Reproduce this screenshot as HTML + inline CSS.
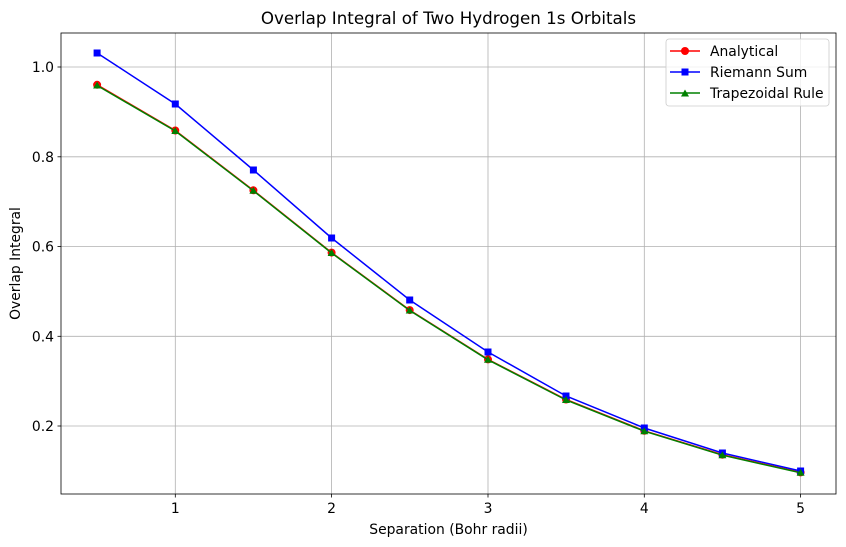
<!DOCTYPE html>
<html><head><meta charset="utf-8"><style>body{margin:0;background:#fff}svg{display:block}text{font-family:"DejaVu Sans","Liberation Sans",sans-serif;fill:#000}</style></head><body>
<svg width="846" height="547" xmlns="http://www.w3.org/2000/svg">
<rect width="846" height="547" fill="#fff"/>
<g stroke="#b0b0b0" stroke-width="0.8">
<line x1="175.3" y1="33" x2="175.3" y2="494"/><line x1="331.6" y1="33" x2="331.6" y2="494"/><line x1="488" y1="33" x2="488" y2="494"/><line x1="644.3" y1="33" x2="644.3" y2="494"/><line x1="800.6" y1="33" x2="800.6" y2="494"/>
<line x1="61" y1="67" x2="836" y2="67"/><line x1="61" y1="156.8" x2="836" y2="156.8"/><line x1="61" y1="246.5" x2="836" y2="246.5"/><line x1="61" y1="336.3" x2="836" y2="336.3"/><line x1="61" y1="426" x2="836" y2="426"/>
</g>
<rect x="61" y="33" width="775" height="461" fill="none" stroke="#000" stroke-width="0.8"/>
<g stroke="#000" stroke-width="0.8">
<line x1="175.3" y1="494" x2="175.3" y2="497.5"/><line x1="331.6" y1="494" x2="331.6" y2="497.5"/><line x1="488" y1="494" x2="488" y2="497.5"/><line x1="644.3" y1="494" x2="644.3" y2="497.5"/><line x1="800.6" y1="494" x2="800.6" y2="497.5"/>
<line x1="57.5" y1="67" x2="61" y2="67"/><line x1="57.5" y1="156.8" x2="61" y2="156.8"/><line x1="57.5" y1="246.5" x2="61" y2="246.5"/><line x1="57.5" y1="336.3" x2="61" y2="336.3"/><line x1="57.5" y1="426" x2="61" y2="426"/>
</g>
<g font-size="13.9" text-anchor="middle">
<text x="175.3" y="513">1</text><text x="331.6" y="513">2</text><text x="488" y="513">3</text><text x="644.3" y="513">4</text><text x="800.6" y="513">5</text>
</g>
<g font-size="13.9" text-anchor="end">
<text x="54" y="72">1.0</text><text x="54" y="161.8">0.8</text><text x="54" y="251.5">0.6</text><text x="54" y="341.3">0.4</text><text x="54" y="431">0.2</text>
</g>
<text x="448.5" y="534" font-size="13.9" text-anchor="middle">Separation (Bohr radii)</text>
<text transform="translate(20,263.5) rotate(-90)" font-size="13.9" text-anchor="middle">Overlap Integral</text>
<text x="448.5" y="24" font-size="16.7" text-anchor="middle">Overlap Integral of Two Hydrogen 1s Orbitals</text>
<g fill="red" stroke="none">
<polyline fill="none" stroke="red" stroke-width="1.5" points="97.1,84.8 175.3,130.5 253.4,190.3 331.6,252.6 409.7,310.1 488,359.4 566,399.5 644.3,430.8 722.4,454.7 800.6,472.4"/>
<circle cx="97.1" cy="84.8" r="4"/><circle cx="175.3" cy="130.5" r="4"/><circle cx="253.4" cy="190.3" r="4"/><circle cx="331.6" cy="252.6" r="4"/><circle cx="409.7" cy="310.1" r="4"/><circle cx="488" cy="359.4" r="4"/><circle cx="566" cy="399.5" r="4"/><circle cx="644.3" cy="430.8" r="4"/><circle cx="722.4" cy="454.7" r="4"/><circle cx="800.6" cy="472.4" r="4"/>
</g>
<g fill="blue">
<polyline fill="none" stroke="blue" stroke-width="1.5" points="97.1,53 175.3,104 253.4,170 331.6,238 409.7,300 488,352 566,396 644.3,428 722.4,453 800.6,471"/>
<rect x="93.6" y="49.5" width="7" height="7"/><rect x="171.8" y="100.5" width="7" height="7"/><rect x="249.9" y="166.5" width="7" height="7"/><rect x="328.1" y="234.5" width="7" height="7"/><rect x="406.2" y="296.5" width="7" height="7"/><rect x="484.5" y="348.5" width="7" height="7"/><rect x="562.5" y="392.5" width="7" height="7"/><rect x="640.8" y="424.5" width="7" height="7"/><rect x="718.9" y="449.5" width="7" height="7"/><rect x="797.1" y="467.5" width="7" height="7"/>
</g>
<g fill="green">
<polyline fill="none" stroke="green" stroke-width="1.5" points="97.1,85.5 175.3,131 253.4,190.8 331.6,253 409.7,310.5 488,359.8 566,400 644.3,431.2 722.4,455.2 800.6,472.8"/>
<polygon points="97.1,81.5 101.1,88.5 93.1,88.5"/><polygon points="175.3,127 179.3,134 171.3,134"/><polygon points="253.4,186.8 257.4,193.8 249.4,193.8"/><polygon points="331.6,249 335.6,256 327.6,256"/><polygon points="409.7,306.5 413.7,313.5 405.7,313.5"/><polygon points="488,355.8 492,362.8 484,362.8"/><polygon points="566,396 570,403 562,403"/><polygon points="644.3,427.2 648.3,434.2 640.3,434.2"/><polygon points="722.4,451.2 726.4,458.2 718.4,458.2"/><polygon points="800.6,468.8 804.6,475.8 796.6,475.8"/>
</g>
<rect x="666" y="39" width="163" height="67" rx="3" fill="#fff" fill-opacity="0.8" stroke="#ccc" stroke-width="0.8"/>
<line x1="670" y1="51" x2="700" y2="51" stroke="red" stroke-width="1.5"/><circle cx="685" cy="51" r="4" fill="red"/>
<text x="710" y="56" font-size="13.9">Analytical</text>
<line x1="670" y1="72" x2="700" y2="72" stroke="blue" stroke-width="1.5"/><rect x="681.5" y="68.5" width="7" height="7" fill="blue"/>
<text x="710" y="77" font-size="13.9">Riemann Sum</text>
<line x1="670" y1="93" x2="700" y2="93" stroke="green" stroke-width="1.5"/><polygon points="685,89.5 689,96.5 681,96.5" fill="green"/>
<text x="710" y="98" font-size="13.9">Trapezoidal Rule</text>
</svg>
</body></html>
